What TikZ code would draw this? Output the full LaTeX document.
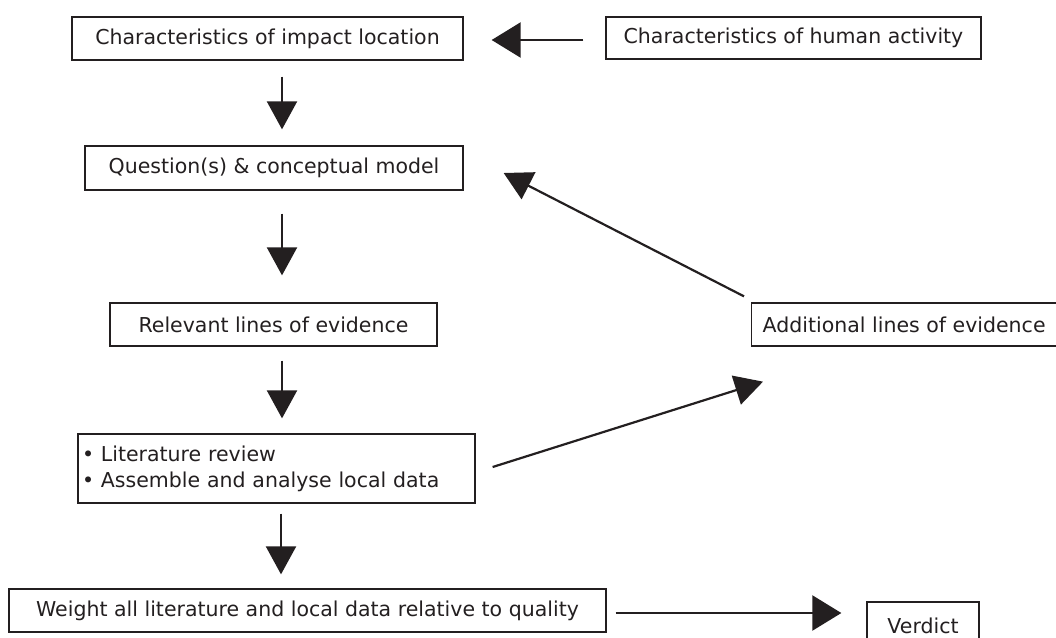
\documentclass[tikz,border=0pt]{standalone}
\usepackage{fontspec}
\setmainfont{DejaVu Sans}
\usetikzlibrary{arrows.meta}
\definecolor{ink}{HTML}{231F20}
\begin{document}
\begin{tikzpicture}[x=1pt,y=-1pt,
  box/.style={draw=ink,line width=1.3pt,text=ink,font=\fontsize{20.5}{26}\selectfont,inner sep=0pt,align=center},
  arr/.style={draw=ink,line width=2.2pt,-{Triangle[length=28pt,width=30pt]}},
  arrw/.style={draw=ink,line width=2.2pt,-{Triangle[length=29pt,width=35pt]}}]
\clip (0,0) rectangle (1056,637);
\useasboundingbox (0,0) rectangle (1056,637);
\node[box,minimum width=391pt,minimum height=43pt] (loc) at (267.5,38.5) {Characteristics of impact location};
\node[box,minimum width=375pt,minimum height=42pt] (hum) at (793.5,38) {Characteristics of human activity};
\node[box,minimum width=378pt,minimum height=44pt] (q) at (274,168) {Question(s) \& conceptual model};
\node[box,minimum width=327pt,minimum height=43pt] (rel) at (273.5,324.5) {Relevant lines of evidence};
\node[box,minimum width=319pt,minimum height=43pt,anchor=west] (add) at (751,324.5) {\hspace*{-14pt}Additional lines of evidence};
\node[box,text width=389pt,inner xsep=4pt,minimum height=69pt,align=left] (lit) at (276.5,468.5) {• Literature review\\• Assemble and analyse local data};
\node[box,minimum width=597pt,minimum height=43pt] (w) at (307.5,610.5) {Weight all literature and local data relative to quality};
\node[box,minimum width=112pt,minimum height=48pt] (v) at (923,626) {Verdict};
% connectors
\draw[arrw] ([shift={(-22,2)}]hum.west) -- ([shift={(28,1.5)}]loc.east);
\draw[arr] ([shift={(14.5,16)}]loc.south) -- ([shift={(8,-16)}]q.north);
\draw[arr] ([shift={(8,23)}]q.south) -- ([shift={(8.5,-27)}]rel.north);
\draw[arr] ([shift={(8.5,14)}]rel.south) -- ([shift={(5.5,-15)}]lit.north);
\draw[arr] ([shift={(4.5,10)}]lit.south) -- ([shift={(-26.5,-14)}]w.north);
\draw[arrw] ([shift={(9,2.5)}]w.east) -- ([shift={(-25,-13)}]v.west);
\draw[arr] ([shift={(-7,-6)}]add.north west) -- ([shift={(40,5)}]q.east);
\draw[arr] ([shift={(17,-1.5)}]lit.east) -- ([shift={(12,35)}]add.south west);
\end{tikzpicture}
\end{document}
